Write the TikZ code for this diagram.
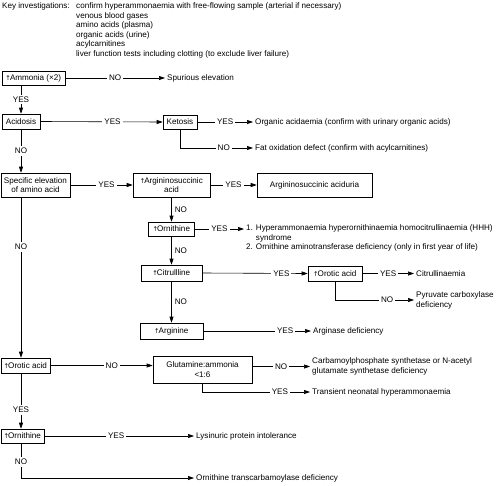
\documentclass[tikz,border=0pt]{standalone}
\usepackage{fontspec}
\setmainfont{Liberation Sans}
\newfontfamily\arrowfont{DejaVu Sans}
\usetikzlibrary{arrows.meta}
\newcommand{\uparr}{\kern-0.4pt{\arrowfont\fontsize{6.5}{6.5}\selectfont ↑}\kern-0.9pt}
\begin{document}
\begin{tikzpicture}[x=1pt,y=-1pt, font=\fontsize{8.1}{9.8}\selectfont,
  box/.style={draw, line width=0.6pt, inner sep=0pt, align=center},
  term/.style={inner sep=2pt, align=left, anchor=west},
  arr/.style={line width=0.6pt, -{Triangle[length=6pt,width=4pt]}},
  lbl/.style={fill=white, inner sep=2pt},
  side/.style={right, inner sep=3pt}]
\useasboundingbox (0,0) rectangle (500,485);

% key investigations
\node[inner sep=0pt, anchor=north west] (keyh) at (2,2.5) {Key investigations:};
\node[inner sep=0pt, anchor=north west, align=left, font=\fontsize{8.1}{9.6}\selectfont] (keyl) at (76,2.5)
 {confirm hyperammonaemia with free-flowing sample (arterial if necessary)\\
  venous blood gases\\
  amino acids (plasma)\\
  organic acids (urine)\\
  acylcarnitines\\
  liver function tests including clotting (to exclude liver failure)};

% boxes
\node[box, minimum width=63pt, minimum height=14pt] (amm) at (33.5,78) {\uparr Ammonia (×2)};
\node[box, minimum width=38pt, minimum height=15pt] (acid) at (21,121.5) {Acidosis};
\node[box, minimum width=34pt, minimum height=14pt] (ket) at (180,122) {Ketosis};
\node[box, minimum width=69pt, minimum height=24pt] (spec) at (35.5,185) {Specific elevation\\of amino acid};
\node[box, minimum width=77pt, minimum height=24pt] (arg) at (171.5,185) {\uparr Argininosuccinic\\acid};
\node[box, minimum width=115pt, minimum height=24pt] (asa) at (314.5,185) {Argininosuccinic aciduria};
\node[box, minimum width=46pt, minimum height=14pt] (orn) at (171.5,229) {\uparr Ornithine};
\node[box, minimum width=61pt, minimum height=16pt] (citr) at (171.5,273) {\uparr Citrullline};
\node[box, minimum width=63pt, minimum height=16pt] (argi) at (171.5,331) {\uparr Arginine};
\node[box, minimum width=54pt, minimum height=15pt] (oro2) at (335,273.5) {\uparr Orotic acid};
\node[box, minimum width=49pt, minimum height=15pt] (oro) at (25.5,365.5) {\uparr Orotic acid};
\node[box, minimum width=99pt, minimum height=27pt] (glu) at (202.5,369.5) {Glutamine:ammonia\\<1:6};
\node[box, minimum width=43pt, minimum height=14pt] (orn2) at (22.5,436) {\uparr Ornithine};

% terminal texts
\node[term] (sp) at (165,78) {Spurious elevation};
\node[term] (oa) at (253,122) {Organic acidaemia (confirm with urinary organic acids)};
\node[term] (fo) at (253,148) {Fat oxidation defect (confirm with acylcarnitines)};
\node[term, anchor=north west] (hhh) at (244,222.3)
 {1. Hyperammonaemia hyperornithinaemia homocitrullinaemia (HHH)\\
  \hphantom{1. }syndrome\\
  2. Ornithine aminotransferase deficiency (only in first year of life)};
\node[term] (cit) at (414,273.5) {Citrullinaemia};
\node[term] (pc) at (414,300) {Pyruvate carboxylase\\deficiency};
\node[term] (ad) at (311,331) {Arginase deficiency};
\node[term] (cps) at (310,366.5) {Carbamoylphosphate synthetase or N-acetyl\\glutamate synthetase deficiency};
\node[term] (tnh) at (310,392) {Transient neonatal hyperammonaemia};
\node[term] (lpi) at (194,436) {Lysinuric protein intolerance};
\node[term] (otc) at (194,478) {Ornithine transcarbamoylase deficiency};

% connectors
\draw[arr] (amm.east) -- node[lbl]{NO} (amm.east -| sp.west);
\draw[arr] (acid.south |- amm.south) -- node[lbl]{YES} (acid.north);
\draw[arr] (acid.east) -- node[lbl, pos=0.59]{YES} (ket.west);
\draw[arr] (ket.east) -- node[lbl]{YES} (oa.west);
\draw[arr] (ket.south) |- node[lbl, pos=0.8]{NO} (fo.west);
\draw[arr] (acid.south) -- node[lbl]{NO} (acid.south |- spec.north);
\draw[arr] (spec.east) -- node[lbl, pos=0.58]{YES} (arg.west);
\draw[arr] (arg.east) -- node[lbl]{YES} (asa.west);
\draw[arr] (arg.south) -- node[side]{NO} (orn.north);
\draw[arr] (orn.east) -- node[lbl]{YES} (orn.east -| hhh.west);
\draw[arr] (orn.south) -- node[side]{NO} (citr.north);
\draw[arr] (citr.east) -- node[lbl, pos=0.75]{YES} (oro2.west);
\draw[arr] (oro2.east) -- node[lbl]{YES} (cit.west);
\draw[arr] (oro2.south) |- node[lbl, pos=0.83]{NO} (pc.west);
\draw[arr] (citr.south) -- node[side]{NO} (argi.north);
\draw[arr] (argi.east) -- node[lbl, pos=0.76]{YES} (ad.west);
\draw[arr] (acid.south |- spec.south) -- node[lbl, pos=0.31]{NO} (acid.south |- oro.north);
\draw[arr] (oro.east) -- node[lbl, pos=0.6]{NO} (glu.west |- oro.east);
\draw[arr] (glu.east |- cps.west) -- node[lbl]{NO} (cps.west);
\draw[arr] (glu.south) |- node[lbl, pos=0.86]{YES} (tnh.west);
\draw[arr] (acid.south |- oro.south) -- node[lbl, pos=0.66]{YES} (acid.south |- orn2.north);
\draw[arr] (orn2.east) -- node[lbl, pos=0.48]{YES} (lpi.west);
\draw[arr] (acid.south |- orn2.south) |- node[lbl, pos=0.27]{NO} (otc.west);
\end{tikzpicture}
\end{document}
